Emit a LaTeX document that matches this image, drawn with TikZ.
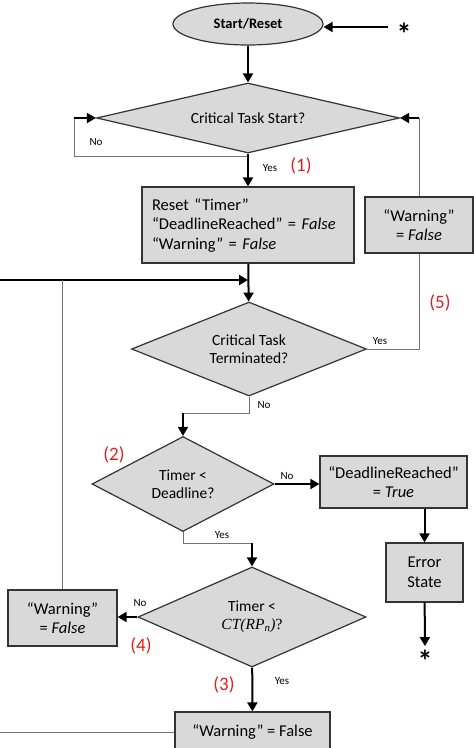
\documentclass[tikz,border=0pt]{standalone}
\usepackage{fontspec}
\setmainfont{Carlito}
\newfontfamily\timesfont{Liberation Serif}
\usetikzlibrary{arrows,arrows.meta,positioning,shapes.geometric}
\definecolor{boxgray}{RGB}{217,217,217}
\definecolor{numred}{RGB}{228,30,30}

\begin{document}
\begin{tikzpicture}
      [x=1pt,y=-1pt,>={Triangle[length=9pt,width=10pt]},
        decision/.style={
          diamond, aspect=4,
          draw=black!80, line width=1.2pt,
          fill=boxgray,
          inner sep=0pt,
          align=center,
          font=\fontsize{15.5}{18}\selectfont},
        block/.style={
          rectangle,
          draw=black!80, line width=1.2pt,
          fill=boxgray,
          inner sep=0pt,
          align=center,
          font=\fontsize{16.5}{19.5}\selectfont},
        terminal/.style={
          ellipse,
          draw=black!80, line width=1.2pt,
          fill=boxgray,
          minimum width=150pt, minimum height=42pt,
          inner sep=0pt,
          font=\fontsize{14.5}{16}\selectfont\bfseries},
        arrow/.style={draw, line width=2pt, ->},
        flow/.style={draw=black!55, line width=1pt},
        answer/.style={inner sep=0pt, font=\fontsize{11}{13}\selectfont},
        stepnum/.style={inner sep=0pt, text=numred, font=\fontsize{19}{22}\selectfont},
        asterisk/.style={inner sep=4pt, font=\fontsize{30}{30}\selectfont\bfseries},]
      \useasboundingbox (0,0) rectangle (474,748);
      \clip (0,0) rectangle (474,748);

      \node[terminal] (start) at (248,24) {Start/Reset};
      \node[asterisk] (starin) at (404,34) {*};
      \node[decision, minimum width=303pt, minimum height=70pt] (crit) at (248,118) {Critical Task Start?};
      \node[block, minimum width=212pt, minimum height=76pt, text width=192pt, align=left] (reset) at (248,225)
        {Reset “Timer”\\ “DeadlineReached” = \textit{False}\\ “Warning” = \textit{False}};
      \node[block, minimum width=108pt, minimum height=56pt] (warnR) at (419,225) {“Warning”\\ = \textit{False}};
      \node[decision, minimum width=235pt, minimum height=94pt] (term) at (249,349) {Critical Task\\ Terminated?};
      \node[decision, minimum width=182pt, minimum height=95pt] (timer) at (183,484) {Timer <\\ Deadline?};
      \node[block, minimum width=147pt, minimum height=52pt] (deadline) at (393.5,482) {“DeadlineReached”\\ = \textit{True}};
      \node[block, minimum width=77pt, minimum height=59pt] (error) at (424.5,572.5) {Error\\ State};
      \node[asterisk] (starout) at (425,661) {*};
      \node[decision, minimum width=228pt, minimum height=100pt] (ct) at (252,617)
        {Timer <\\ {\timesfont\itshape CT(RP\textsubscript{n})}{\timesfont ?}};
      \node[block, minimum width=109pt, minimum height=56pt] (warnL) at (62.5,618) {“Warning”\\ = \textit{False}};
      \node[block, minimum width=155pt, minimum height=40pt] (warnB) at (252.5,732) {“Warning” = False};

      \coordinate (sin) at (388,27);
      \coordinate (nob) at (74,156);
      \coordinate (noa) at (74,118);
      \coordinate (join) at (248,280);
      \coordinate (leftin) at (0,280);
      \coordinate (wrtop) at (warnR.north |- crit.east);
      \coordinate (tn) at (183,413);
      \coordinate (ty) at (252,543);
      \coordinate (bl) at (0,732);

      \draw[arrow] (sin) -- (sin -| start.east);
      \draw[arrow] (start) -- (crit);
      \draw[flow] (crit.south) |- (nob) -- (noa);
      \draw[arrow] (noa) -- (crit.west);
      \draw[arrow] (crit) -- (reset);
      \draw[arrow] (reset) -- (term);
      \draw[arrow] (leftin) -- (join);
      \draw[flow] (warnL.north) -- (warnL.north |- join);
      \draw[flow] (term.east) -| (warnR.south);
      \draw[flow] (warnR.north) -- (wrtop);
      \draw[arrow] (wrtop) -- (crit.east);
      \draw[flow] (term.south) |- (tn);
      \draw[arrow] (tn) -- (timer);
      \draw[arrow] (timer.east) -- (timer.east -| deadline.west);
      \draw[arrow] (error.north |- deadline.south) -- (error.north);
      \draw[arrow] (error) -- (starout);
      \draw[flow] (timer.south) |- (ty);
      \draw[arrow] (ty) -- (ct);
      \draw[arrow] (ct.west) -- (ct.west -| warnL.east);
      \draw[arrow] (ct) -- (warnB);
      \draw[flow] (warnB.west) -- (bl);

      \node[answer] (lno1) at (96,142) {No};
      \node[answer] (lyes1) at (270,168) {Yes};
      \node[stepnum] (num1) at (301,166) {(1)};
      \node[answer] (lyes2) at (380,341) {Yes};
      \node[stepnum] (num5) at (440,303) {(5)};
      \node[answer] (lno2) at (264,405) {No};
      \node[stepnum] (num2) at (114,455) {(2)};
      \node[answer] (lno3) at (287,476) {No};
      \node[answer] (lyes3) at (222,535) {Yes};
      \node[answer] (lno4) at (140,603) {No};
      \node[stepnum] (num4) at (141,646) {(4)};
      \node[stepnum] (num3) at (224,685) {(3)};
      \node[answer] (lyes4) at (282,681) {Yes};
    \end{tikzpicture}
\end{document}
